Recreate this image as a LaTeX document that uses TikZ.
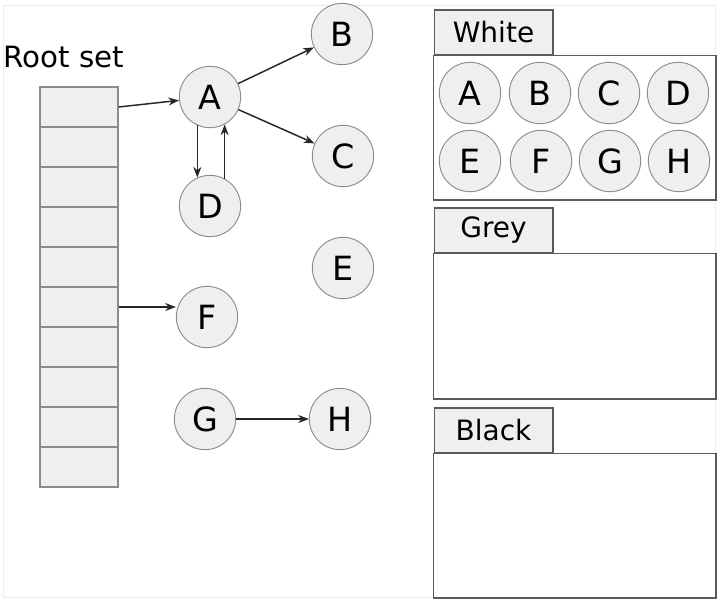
\documentclass[tikz,border=0pt]{standalone}
\usepackage{fontspec}
\setmainfont{DejaVu Sans}
\usetikzlibrary{arrows.meta}
\definecolor{objfill}{HTML}{EFF0EE}
\definecolor{objline}{HTML}{8C8C8C}
\definecolor{boxline}{HTML}{5A5A5A}
\tikzset{
  obj/.style={circle, draw=objline, fill=objfill, line width=0.7pt, minimum size=46pt, inner sep=0pt, font=\fontsize{25}{25}\selectfont},
  cell/.style={rectangle, draw=objline, fill=objfill, line width=1pt, minimum width=58.5pt, minimum height=30pt, inner sep=0pt},
  tab/.style={rectangle, draw=boxline, fill=objfill, line width=1pt, minimum width=89pt, minimum height=33.75pt, inner sep=0pt, font=\fontsize{21}{21}\selectfont},
  panel/.style={draw=boxline, fill=white, line width=1pt},
  ref/.style={-{Stealth[length=8pt,width=6pt]}, line width=1.1pt, black!85},
}
\begin{document}
\begin{tikzpicture}[x=0.75pt,y=-0.75pt]
\useasboundingbox (0,0) rectangle (720,603);
\draw[gray!15] (3,5) rectangle (715,597);

% root set
\node[anchor=base west, inner sep=0pt, font=\fontsize{22}{22}\selectfont] (rootlbl) at (3,67) {Root set};
\foreach \i in {1,...,10}
  \node[cell] (r\i) at (79,67+40*\i) {};

% heap objects
\node[obj] (A) at (210,97) {A};
\node[obj] (B) at (342,34) {B};
\node[obj] (C) at (343,156) {C};
\node[obj] (D) at (210,206) {D};
\node[obj] (E) at (343,268) {E};
\node[obj] (F) at (207,317) {F};
\node[obj] (G) at (205,419) {G};
\node[obj] (H) at (340,419) {H};

\draw[ref] (r1.east) -- (A);
\draw[ref] (A) -- (B);
\draw[ref] (A) -- (C);
\draw[ref] (A.246) -- (D.114);
\draw[ref] (D.62) -- (A.298);
\draw[ref] (r6.east) -- (r6.east -| F.west);
\draw[ref] (G) -- (H);

% colour sets
\node[tab] (white) at (493.5,32.5) {White};
\draw[panel] (white.south west) rectangle (716,200);
\node[tab] (grey) at (493.5,230.5) {Grey};
\draw[panel] (grey.south west) rectangle (716,399);
\node[tab] (black) at (493.5,430.5) {Black};
\draw[panel] (black.south west) rectangle (716,598);

\foreach \n/\x/\y in {A/470/93, B/540/93, C/609/93, D/678/93,
                      E/470/161, F/541/161, G/610/161, H/679/161}
  \node[obj] (w\n) at (\x,\y) {\n};

\end{tikzpicture}
\end{document}
